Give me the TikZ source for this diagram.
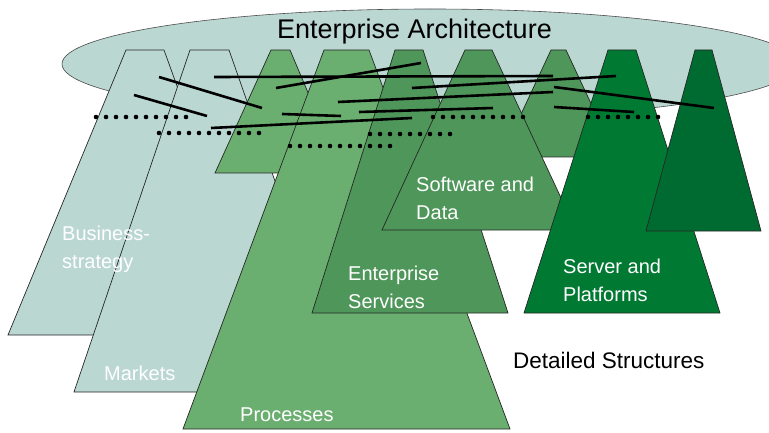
\documentclass[tikz,border=0pt]{standalone}
\usepackage{fontspec}
\setmainfont{Liberation Sans}
\usepackage{tikz}
\usetikzlibrary{positioning}
\tikzstyle{canvas} = [x = 1pt, y = -1pt]
\definecolor{cloudColor}{HTML}{BBD7D2}
\definecolor{processColor}{HTML}{6AAF6F}
\definecolor{serviceColor}{HTML}{4E9659}
\definecolor{serverColor}{HTML}{007A33}
\definecolor{platformColor}{HTML}{006B31}
\tikzstyle{cloudStyle} = [fill=cloudColor, draw=black!70, line width=.6pt]
\tikzstyle{layerStyle} = [draw=black!85, line width=.7pt, line join=miter]
\tikzstyle{linkLine} = [line width=2.6pt]
\tikzstyle{layerText} = [white, inner sep=0, anchor=base west, align=left, font=\fontsize{20}{27.5}\selectfont]
\tikzstyle{captionText} = [black, inner sep=0, anchor=base west]
\newcommand{\topY}{50}
\newcommand{\dotRadius}{2.3}
% layer: top left, top right, bottom left, bottom right, bottom y, colour
\newcommand{\layerShape}[6]{\filldraw [layerStyle, fill=#6] (#1, \topY) -- (#2, \topY) -- (#4, #5) -- (#3, #5) -- cycle;}
\newcommand{\linkShift}[4]{\draw [linkLine] (#1, #2) -- (#3, #4);}
\newcommand{\dotRow}[3]{
  \pgfmathsetmacro{\nextX}{#1 + 10}
  \foreach \dotX in {#1,\nextX,...,#2} {
    \fill (\dotX, #3) circle (\dotRadius);
  }
}

\begin{document}
\begin{tikzpicture}[canvas]
  \useasboundingbox (0, 0) rectangle (769, 433);
  \filldraw [cloudStyle] (430, 64) ellipse (368 and 55);
  \layerShape{126}{164}{8}{267}{335}{cloudColor}\layerShape{190}{229}{74}{349}{392}{cloudColor}
  \layerShape{271}{290}{215}{342}{173}{processColor}\layerShape{324}{369}{183}{510}{429}{processColor}
  \layerShape{395}{423}{312}{508}{313}{serviceColor}\layerShape{551}{566}{501}{616}{157}{serviceColor}\layerShape{465}{492}{382}{576}{230}{serviceColor}
  \layerShape{608}{636}{524}{720}{313}{serverColor}\layerShape{695}{712}{646}{761}{231}{platformColor}
  % links between the layers
  \linkShift{159}{77}{262}{108}\linkShift{134}{95}{207}{116}\linkShift{214}{77}{553}{76}\linkShift{412}{88}{616}{76}
  \linkShift{338}{102}{553}{92}\linkShift{359}{112}{493}{108}\linkShift{282}{114}{341}{116}\linkShift{211}{128}{412}{118}
  \linkShift{554}{87}{714}{108}\linkShift{554}{107}{634}{112}\linkShift{276}{88}{421}{63}
  \dotRow{96}{186}{117}\dotRow{159}{259}{133}\dotRow{433}{523}{117}
  \dotRow{370}{450}{134}\dotRow{290}{390}{146}\dotRow{588}{658}{117}
  % labels (two-line labels sit on their last line)
  \node [captionText, font=\fontsize{27}{32}\selectfont] (titleLabel) at (277, 39) {Enterprise Architecture};
  \node [layerText] (strategyLabel) at (62, 268) {Business-\\strategy};
  \node [layerText] (marketsLabel) at (104, 380) {Markets};
  \node [layerText] (processesLabel) at (240, 421) {Processes};
  \node [layerText] (servicesLabel) at (348, 308) {Enterprise\\Services};
  \node [layerText] (softwareLabel) at (416, 219) {Software and\\Data};
  \node [layerText] (serverLabel) at (563, 301) {Server and\\Platforms};
  \node [captionText, font=\fontsize{22.5}{27}\selectfont] (detailLabel) at (513, 368) {Detailed Structures};
\end{tikzpicture}
\end{document}
